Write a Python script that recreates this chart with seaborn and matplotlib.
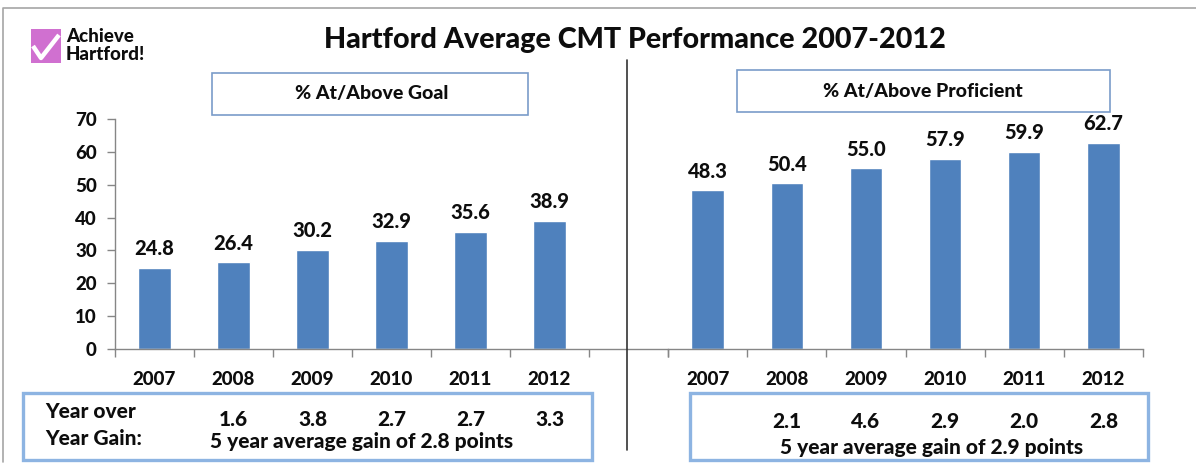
import matplotlib
matplotlib.use("Agg")
import matplotlib.pyplot as plt
import matplotlib.transforms as mtransforms
from matplotlib.patches import Rectangle
from matplotlib.lines import Line2D
import seaborn as sns
import pandas as pd
import numpy as np

# ---- data ----
years = ["2007", "2008", "2009", "2010", "2011", "2012"]
goal_pct = [24.8, 26.4, 30.2, 32.9, 35.6, 38.9]
proficient_pct = [48.3, 50.4, 55.0, 57.9, 59.9, 62.7]
goal_gain_years = ["2008", "2009", "2010", "2011", "2012"]
goal_gain = ["1.6", "3.8", "2.7", "2.7", "3.3"]
prof_gain = ["2.1", "4.6", "2.9", "2.0", "2.8"]
goal_avg_text = "5 year average gain of 2.8 points"
prof_avg_text = "5 year average gain of 2.9 points"
title = "Hartford Average CMT Performance 2007-2012"
left_header = "% At/Above Goal"
right_header = "% At/Above Proficient"
yticks = [0, 10, 20, 30, 40, 50, 60, 70]

sns.set_style("white")
plt.rcParams["font.family"] = ["Lato", "DejaVu Sans"]

W, H = 1196, 465
fig = plt.figure(figsize=(W / 100, H / 100), dpi=100)

def fx(px):
    return px / W

def fy(py):
    return 1 - py / H

BAR = "#4F81BD"
AXC = "#868686"
TXT = "#0d0d0d"
WT = 900

y0, y1 = 349, 119
axL = fig.add_axes([fx(115), fy(y0), fx(668 - 115), (y0 - y1) / H])
axR = fig.add_axes([fx(668), fy(y0), fx(1143 - 668), (y0 - y1) / H])

dfL = pd.DataFrame({"year": years, "value": goal_pct})
dfR = pd.DataFrame({"year": years, "value": proficient_pct})

for ax, df, nslots in [(axL, dfL, 7), (axR, dfR, 6)]:
    sns.barplot(data=df, x="year", y="value", order=years, color=BAR,
                saturation=1, width=0.41, ax=ax)
    ax.set_ylim(0, 70)
    ax.set_xlim(-0.5, nslots - 0.5)
    ax.set_xlabel("")
    ax.set_ylabel("")
    for c in ax.containers:
        ax.bar_label(c, fmt="%.1f", padding=7, fontsize=14.5,
                     fontweight=WT, color=TXT)
    ax.set_xticks(range(len(years)))
    ax.set_xticklabels(years, fontsize=13.5, fontweight=WT)
    ax.set_xticks(np.arange(-0.5, nslots, 1.0), minor=True)
    ax.tick_params(axis="x", which="major", length=0, pad=16, colors=TXT)
    ax.tick_params(axis="x", which="minor", length=6, width=1, color=AXC,
                   direction="out", bottom=True)
    for s in ["top", "right"]:
        ax.spines[s].set_visible(False)
    ax.spines["bottom"].set_color(AXC)
    ax.spines["bottom"].set_linewidth(1)
    ax.set_facecolor("none")

axL.set_yticks(yticks)
axL.set_yticklabels([str(v) for v in yticks], fontsize=13.5, fontweight=WT)
axL.tick_params(axis="y", length=6, width=1, color=AXC, direction="out",
                left=True, pad=7, colors=TXT)
axL.tick_params(axis="y", color=AXC)
axL.spines["left"].set_color(AXC)
axL.spines["left"].set_linewidth(1)

axR.spines["left"].set_visible(False)
axR.set_yticks([])

# ---- title ----
fig.text(fx(635), fy(40), title, ha="center", va="center",
         fontsize=20.7, fontweight=WT, color=TXT)

# ---- header boxes ----
def box(x0, y0p, x1, y1p, ec, lw):
    fig.add_artist(Rectangle((fx(x0), fy(y1p)), fx(x1 - x0), (y1p - y0p) / H,
                             transform=fig.transFigure, fill=False,
                             edgecolor=ec, linewidth=lw))

box(212, 73, 528, 115, "#7A9CC9", 1.2)
fig.text(fx(372), fy(94), left_header, ha="center", va="center",
         fontsize=14, fontweight=WT, color=TXT)
box(737, 70, 1110, 112, "#7A9CC9", 1.2)
fig.text(fx(923), fy(91), right_header, ha="center", va="center",
         fontsize=14, fontweight=WT, color=TXT)

# ---- bottom boxes ----
box(23, 393, 592, 460, "#8DB4E2", 2.4)
box(690, 393, 1148, 460, "#8DB4E2", 2.4)

fig.text(fx(45), fy(411), "Year over", ha="left", va="center",
         fontsize=15, fontweight=WT, color=TXT)
fig.text(fx(45), fy(438), "Year Gain:", ha="left", va="center",
         fontsize=15, fontweight=WT, color=TXT)

trL = mtransforms.blended_transform_factory(axL.transData, fig.transFigure)
trR = mtransforms.blended_transform_factory(axR.transData, fig.transFigure)
for yr, g in zip(goal_gain_years, goal_gain):
    axL.text(years.index(yr), fy(419), g, transform=trL, ha="center",
             va="center", fontsize=15, fontweight=WT, color=TXT)
for yr, g in zip(goal_gain_years, prof_gain):
    axR.text(years.index(yr), fy(422), g, transform=trR, ha="center",
             va="center", fontsize=15, fontweight=WT, color=TXT)
fig.text(fx(210), fy(441), goal_avg_text, ha="left", va="center",
         fontsize=15, fontweight=WT, color=TXT)
fig.text(fx(780), fy(447), prof_avg_text, ha="left", va="center",
         fontsize=15, fontweight=WT, color=TXT)

# ---- separator & frame ----
fig.add_artist(Line2D([fx(627), fx(627)], [fy(60), fy(450)],
                      transform=fig.transFigure, color="#333333", lw=1.2))
fig.add_artist(Line2D([fx(3), fx(3), fx(1196)], [fy(462), fy(8), fy(8)],
                      transform=fig.transFigure, color="#A6A6A6", lw=1.2))

# ---- logo ----
fig.add_artist(Rectangle((fx(31), fy(63)), fx(30), 34 / H,
                         transform=fig.transFigure, facecolor="#D070D0",
                         edgecolor="none"))
fig.add_artist(Line2D([fx(33), fx(41), fx(59)], [fy(46), fy(58), fy(35)],
                      transform=fig.transFigure, color="white", lw=3.2,
                      solid_capstyle="butt"))
fig.text(fx(66), fy(36), "Achieve", ha="left", va="center",
         fontsize=13.5, fontweight=WT, color=TXT)
fig.text(fx(66), fy(54), "Hartford!", ha="left", va="center",
         fontsize=13.5, fontweight=WT, color=TXT)

fig.savefig("out.png", dpi=100, facecolor="white")
